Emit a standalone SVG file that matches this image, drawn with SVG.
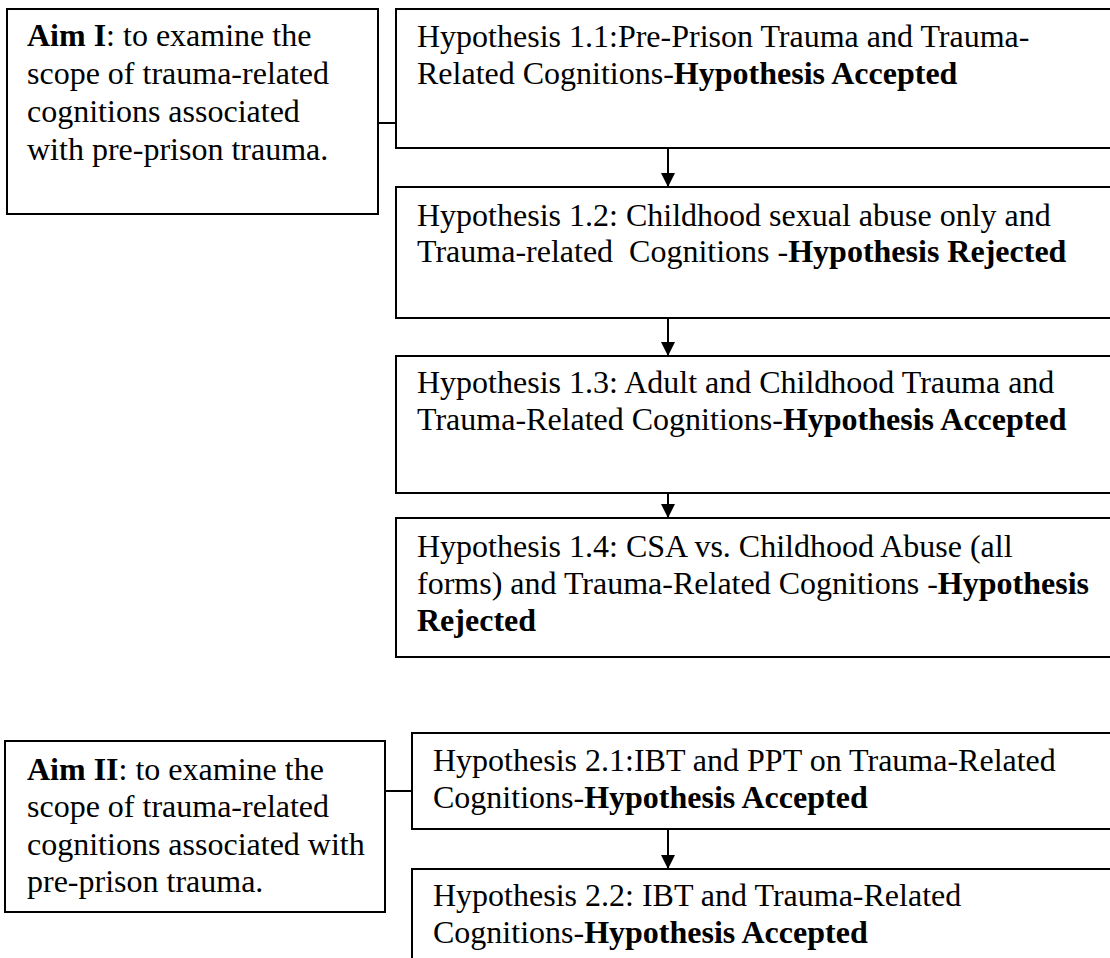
<svg xmlns="http://www.w3.org/2000/svg" width="1110" height="958" viewBox="0 0 1110 958">
<style>
.box{fill:#fff;stroke:#000;stroke-width:2}
.t{font-family:"Liberation Serif","Times New Roman",serif;font-size:32px;fill:#000;white-space:pre}
.b{font-weight:bold}
.c{stroke:#000;stroke-width:2;fill:none}
</style>
<defs>
<marker id="ah" markerWidth="14" markerHeight="14" refX="14" refY="7" orient="auto" markerUnits="userSpaceOnUse">
<path d="M0,0 L14,7 L0,14 Z" fill="#000"/>
</marker>
</defs>
<rect width="1110" height="958" fill="#fff"/>
<g id="aim1">
<rect class="box" x="7" y="9" width="371" height="205"/>
<text class="t" x="27" y="46"><tspan class="b">Aim I</tspan>: to examine the</text>
<text class="t" x="27" y="84">scope of trauma-related</text>
<text class="t" x="27" y="122">cognitions associated</text>
<text class="t" x="27" y="160">with pre-prison trauma.</text>
</g>
<g id="h11">
<rect class="box" x="396" y="9" width="730" height="139"/>
<text class="t" x="417" y="47">Hypothesis 1.1:Pre-Prison Trauma and Trauma-</text>
<text class="t" x="417" y="84">Related Cognitions-<tspan class="b">Hypothesis Accepted</tspan></text>
</g>
<g id="h12">
<rect class="box" x="396" y="187" width="730" height="131"/>
<text class="t" x="417" y="226">Hypothesis 1.2: Childhood sexual abuse only and</text>
<text class="t" x="417" y="262">Trauma-related  Cognitions -<tspan class="b">Hypothesis Rejected</tspan></text>
</g>
<g id="h13">
<rect class="box" x="396" y="356" width="730" height="137"/>
<text class="t" x="417" y="393">Hypothesis 1.3: Adult and Childhood Trauma and</text>
<text class="t" x="417" y="430">Trauma-Related Cognitions-<tspan class="b">Hypothesis Accepted</tspan></text>
</g>
<g id="h14">
<rect class="box" x="396" y="518" width="730" height="139"/>
<text class="t" x="417" y="557">Hypothesis 1.4: CSA vs. Childhood Abuse (all</text>
<text class="t" x="417" y="594">forms) and Trauma-Related Cognitions -<tspan class="b">Hypothesis</tspan></text>
<text class="t b" x="417" y="631">Rejected</text>
</g>
<g id="aim2">
<rect class="box" x="5" y="741" width="380" height="171"/>
<text class="t" x="27" y="780"><tspan class="b">Aim II</tspan>: to examine the</text>
<text class="t" x="27" y="817">scope of trauma-related</text>
<text class="t" x="27" y="855">cognitions associated with</text>
<text class="t" x="27" y="892">pre-prison trauma.</text>
</g>
<g id="h21">
<rect class="box" x="412" y="733" width="714" height="96"/>
<text class="t" x="433" y="771">Hypothesis 2.1:IBT and PPT on Trauma-Related</text>
<text class="t" x="433" y="808">Cognitions-<tspan class="b">Hypothesis Accepted</tspan></text>
</g>
<g id="h22">
<rect class="box" x="412" y="869" width="714" height="110"/>
<text class="t" x="433" y="906">Hypothesis 2.2: IBT and Trauma-Related</text>
<text class="t" x="433" y="943">Cognitions-<tspan class="b">Hypothesis Accepted</tspan></text>
</g>
<g id="connectors">
<line class="c" x1="378" y1="123" x2="396" y2="123"/>
<line class="c" x1="385" y1="791" x2="412" y2="791"/>
<line class="c" x1="668" y1="148" x2="668" y2="187" marker-end="url(#ah)"/>
<line class="c" x1="668" y1="318" x2="668" y2="356" marker-end="url(#ah)"/>
<line class="c" x1="668" y1="493" x2="668" y2="518" marker-end="url(#ah)"/>
<line class="c" x1="668" y1="829" x2="668" y2="869" marker-end="url(#ah)"/>
</g>
</svg>
